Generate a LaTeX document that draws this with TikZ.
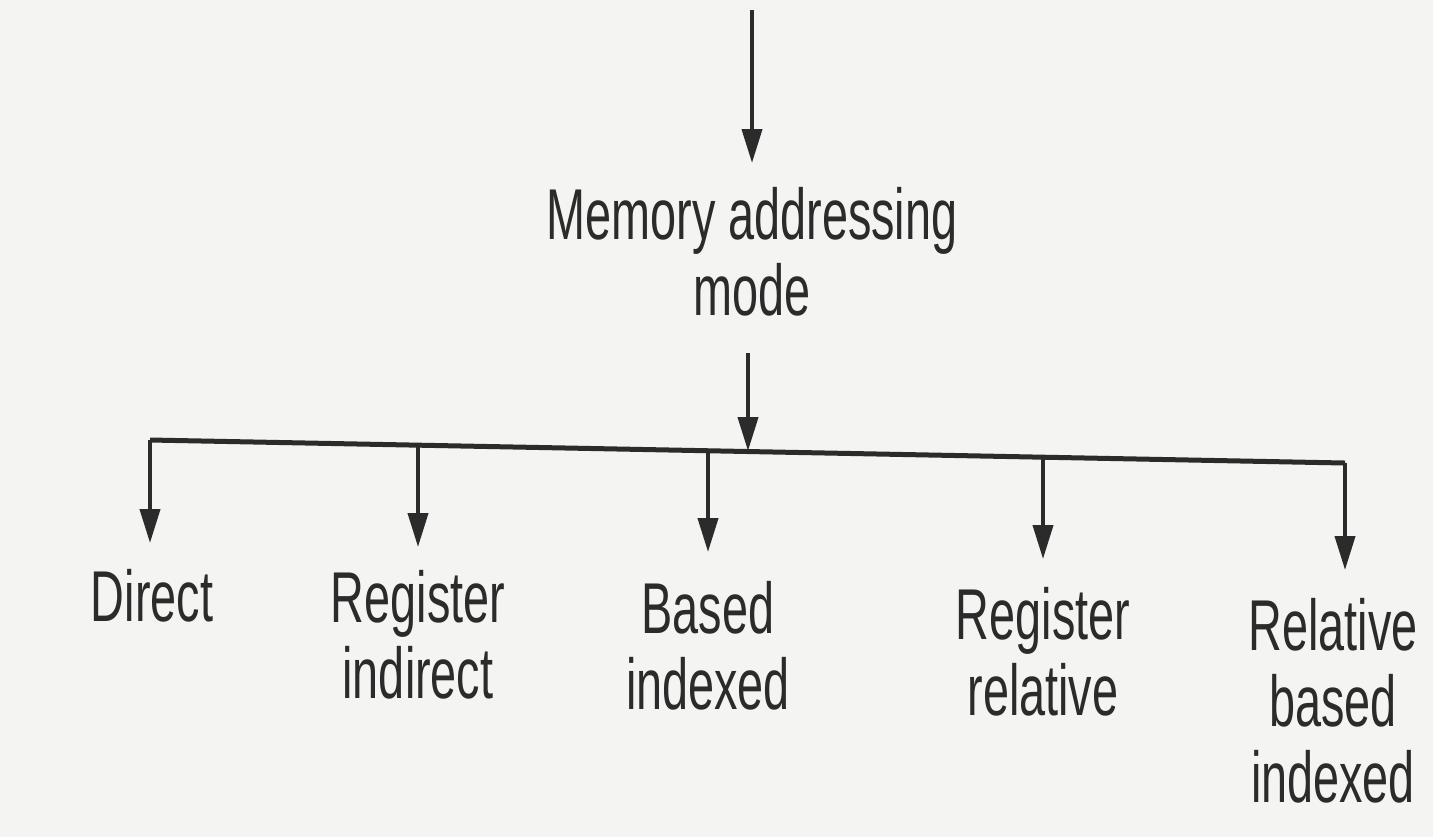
\documentclass[tikz,border=0pt]{standalone}
\usepackage{fontspec}
\setmainfont{Liberation Sans}[FakeStretch=0.65]
\usetikzlibrary{arrows.meta}
\definecolor{ink}{HTML}{2B2B2B}
\definecolor{paper}{HTML}{F4F4F2}
\tikzset{
  lbl/.style={inner sep=0pt, anchor=north, align=center, text=ink,
    font=\fontsize{36pt}{38pt}\selectfont},
  shaft/.style={draw=ink, line width=2pt,
    -{Triangle[length=17pt,width=10pt]}},
  barline/.style={draw=ink, line width=2.5pt}
}
\begin{document}
\begin{tikzpicture}[x=0.5pt,y=-0.5pt]
\useasboundingbox[fill=paper] (0,0) rectangle (1433,837);

% title
\coordinate (in) at (752,10);
\node[lbl] (title) at (752,187) {Memory addressing\\mode};

% labels
\node[lbl] (d1) at (152,569) {Direct};
\node[lbl] (d2) at (418,570) {Register\\indirect};
\node[lbl] (d3) at (708,581) {Based\\indexed};
\node[lbl] (d4) at (1043,587) {Register\\relative};
\node[lbl] (d5) at (1333,598) {Relative\\based\\indexed};

% bar junctions (slightly slanted as in the scan)
\coordinate (j1) at (150,440);
\coordinate (j2) at (418,445);
\coordinate (jc) at (748,451);
\coordinate (j3) at (708,450);
\coordinate (j4) at (1043,457);
\coordinate (j5) at (1345,463);

% connectors
\draw[shaft, shorten >=12pt] (in) -- (title.north -| in);
\draw[shaft, shorten <=18pt] (title.south -| jc) -- (jc);
\draw[barline] (j1) -- (j5);
\draw[shaft, shorten >=13pt] (j1) -- (j1 |- d1.north);
\draw[shaft, shorten >=11.5pt] (j2) -- (j2 |- d2.north);
\draw[shaft, shorten >=14.5pt] (j3) -- (j3 |- d3.north);
\draw[shaft, shorten >=14pt] (j4) -- (j4 |- d4.north);
\draw[shaft, shorten >=14pt] (j5) -- (j5 |- d5.north);
\end{tikzpicture}
\end{document}
